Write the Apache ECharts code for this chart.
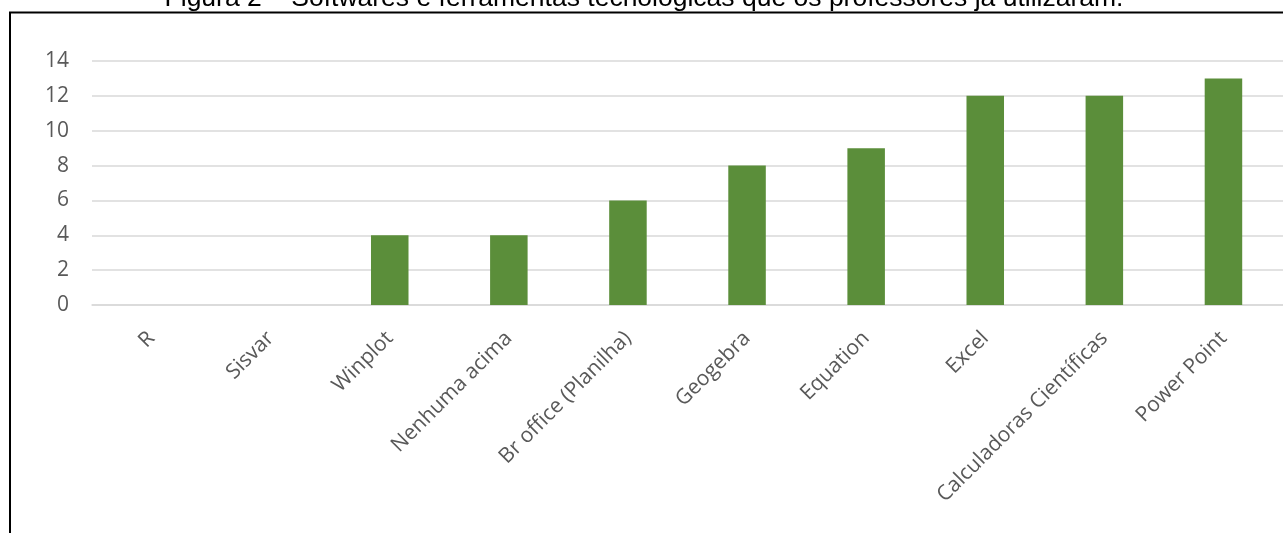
<!DOCTYPE html>
<html>
<head>
<meta charset="utf-8">
<script src="https://cdn.jsdelivr.net/npm/echarts@6/dist/echarts.min.js"></script>
<style>html,body{margin:0;padding:0;background:#fff;}#c{width:1283px;height:533px;}</style>
</head>
<body>
<div id="c"></div>
<script>
const titleText = 'Figura 2 – Softwares e ferramentas tecnológicas que os professores já utilizaram.';
const categories = ['R', 'Sisvar', 'Winplot', 'Nenhuma acima', 'Br office (Planilha)', 'Geogebra', 'Equation', 'Excel', 'Calculadoras Científicas', 'Power Point'];
const values = [0, 0, 4, 4, 6, 8, 9, 12, 12, 13];
const yTicks = { min: 0, max: 14, interval: 2 };

const chart = echarts.init(document.getElementById('c'), null, { renderer: 'canvas' });
chart.setOption({
  animation: false,
  backgroundColor: '#fff',
  graphic: [
    { type: 'rect', shape: { x: 10, y: 12.5, width: 1400, height: 700 }, style: { fill: 'none', stroke: '#000', lineWidth: 2 }, z: 10 },
    { type: 'text', x: 644, y: -1, style: { text: titleText, font: '26.5px "Liberation Sans", Arial, sans-serif', fill: '#000', align: 'center', verticalAlign: 'middle' }, z: 10 }
  ],
  grid: { left: 92, right: 0, top: 61, bottom: 228, containLabel: false },
  xAxis: {
    type: 'category',
    data: categories,
    axisLine: { show: true, lineStyle: { color: '#D9D9D9', width: 1.5 } },
    axisTick: { show: false },
    axisLabel: { rotate: 45, interval: 0, margin: 30, color: '#595959', fontSize: 21, fontFamily: '"Open Sans", sans-serif' }
  },
  yAxis: {
    type: 'value',
    min: yTicks.min, max: yTicks.max, interval: yTicks.interval,
    axisLine: { show: false },
    axisTick: { show: false },
    splitLine: { lineStyle: { color: '#D9D9D9', width: 1.5 } },
    axisLabel: { margin: 23, color: '#595959', fontSize: 21, fontFamily: '"Open Sans", sans-serif' }
  },
  series: [{
    type: 'bar',
    data: values,
    barWidth: '31.5%',
    itemStyle: { color: '#5B8E3A' }
  }]
});
</script>
</body>
</html>
